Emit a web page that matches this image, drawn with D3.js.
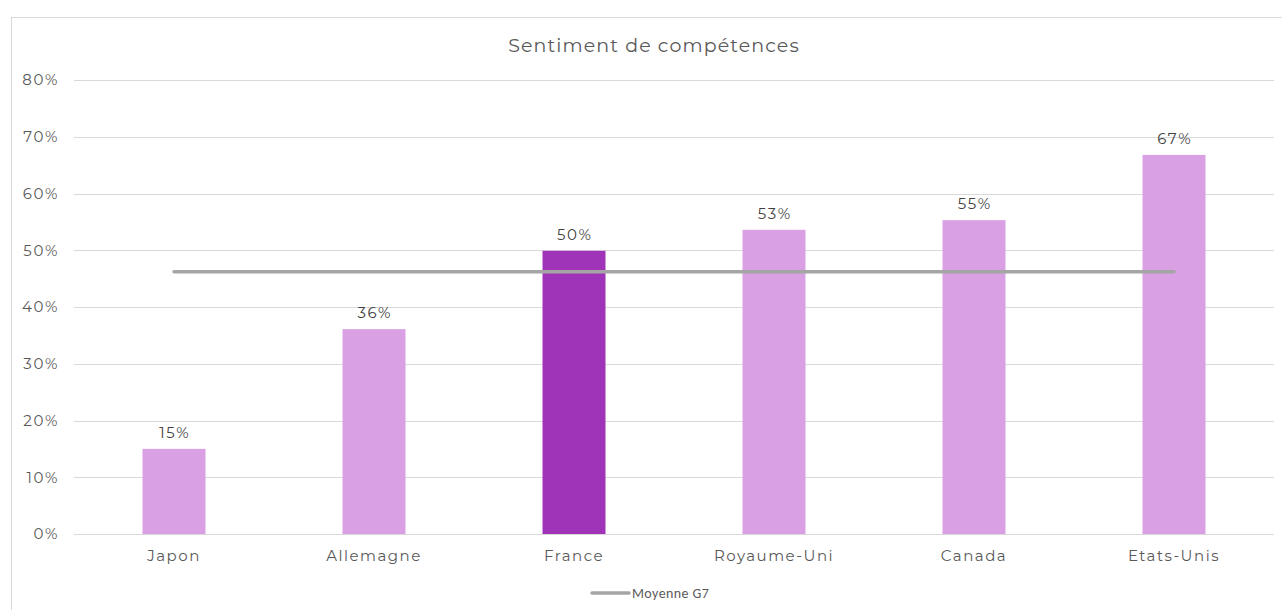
<!DOCTYPE html>
<html>
<head>
<meta charset="utf-8">
<script src="https://cdn.jsdelivr.net/npm/d3@7"></script>
<style>
  body { margin: 0; background: #fff; }
  text { font-family: "Montserrat", Lato, "Open Sans", sans-serif; }
</style>
</head>
<body>
<div id="chart"></div>
<script>
// data
var countries = ['Japon', 'Allemagne', 'France', 'Royaume-Uni', 'Canada', 'Etats-Unis'];
var values = [0.15, 0.361, 0.499, 0.536, 0.553, 0.668];
var labels = ['15%', '36%', '50%', '53%', '55%', '67%'];
var highlight = ['France'];
var average = 0.462; // Moyenne G7
var yTicks = [0, 0.1, 0.2, 0.3, 0.4, 0.5, 0.6, 0.7, 0.8];

var W = 1282, H = 610;
var m = { top: 80, left: 74, right: 8, bottom: 76 };
var font = 'Montserrat, Lato, "Open Sans", sans-serif';

var svg = d3.select('#chart').append('svg')
  .attr('width', W).attr('height', H);

// chart frame
svg.append('rect')
  .attr('x', 11.5).attr('y', 17.5)
  .attr('width', W).attr('height', H)
  .attr('fill', 'none').attr('stroke', '#d9d9d9');

var x = d3.scaleBand()
  .domain(countries)
  .range([m.left, W - m.right])
  .paddingInner(0.685).paddingOuter(0.3425);

var y = d3.scaleLinear().domain([0, 0.8]).range([H - m.bottom, m.top]);

// gridlines
svg.append('g').selectAll('line').data(yTicks).enter().append('line')
  .attr('x1', m.left).attr('x2', W - m.right)
  .attr('y1', d => Math.round(y(d)) + 0.5).attr('y2', d => Math.round(y(d)) + 0.5)
  .attr('stroke', '#d9d9d9').attr('stroke-width', 1);

// y labels
var yAxis = d3.axisLeft(y).tickValues(yTicks).tickFormat(d3.format('.0%')).tickSize(0).tickPadding(15);
var ga = svg.append('g').attr('transform', 'translate(' + m.left + ',0)').call(yAxis);
ga.select('.domain').remove();
ga.selectAll('text').attr('fill', '#595959').style('font-size', '15px')
  .style('letter-spacing', '1.6px').style('font-family', font);

// bars
svg.append('g').selectAll('rect').data(countries).enter().append('rect')
  .attr('x', d => x(d))
  .attr('width', x.bandwidth())
  .attr('y', (d, i) => y(values[i]))
  .attr('height', (d, i) => y(0) - y(values[i]))
  .attr('fill', d => highlight.indexOf(d) >= 0 ? '#a034b8' : '#d9a0e3');

// value labels
svg.append('g').selectAll('text').data(countries).enter().append('text')
  .attr('x', d => x(d) + x.bandwidth() / 2 + 0.8)
  .attr('y', (d, i) => y(values[i]) - 11)
  .attr('text-anchor', 'middle')
  .attr('fill', '#404040').style('font-size', '15px')
  .style('letter-spacing', '1.6px')
  .text((d, i) => labels[i]);

// category labels
var xAxis = d3.axisBottom(x).tickSize(0).tickPadding(16);
var gx = svg.append('g').attr('transform', 'translate(0,' + y(0) + ')').call(xAxis);
gx.select('.domain').remove();
gx.selectAll('text').attr('fill', '#595959').style('font-size', '15px')
  .style('letter-spacing', '1.5px').style('font-family', font);

// average line
var first = countries[0], last = countries[countries.length - 1];
svg.append('line')
  .attr('x1', x(first) + x.bandwidth() / 2)
  .attr('x2', x(last) + x.bandwidth() / 2)
  .attr('y1', y(average)).attr('y2', y(average))
  .attr('stroke', '#a5a5a5').attr('stroke-width', 3.5)
  .attr('stroke-linecap', 'round');

// title
svg.append('text')
  .attr('x', 654).attr('y', 52)
  .attr('text-anchor', 'middle')
  .attr('fill', '#595959').style('font-size', '19px')
  .style('letter-spacing', '1.1px')
  .text('Sentiment de compétences');

// legend
var lg = svg.append('g').attr('transform', 'translate(592,593)');
lg.append('line').attr('x1', 0).attr('x2', 37).attr('y1', 0).attr('y2', 0)
  .attr('stroke', '#a5a5a5').attr('stroke-width', 3.5).attr('stroke-linecap', 'round');
lg.append('text').attr('x', 40).attr('y', 5)
  .attr('fill', '#595959').style('font-size', '14px')
  .style('letter-spacing', '0.4px')
  .style('font-family', 'Carlito, "Liberation Sans", "Open Sans", sans-serif')
  .text('Moyenne G7');
</script>
</body>
</html>
